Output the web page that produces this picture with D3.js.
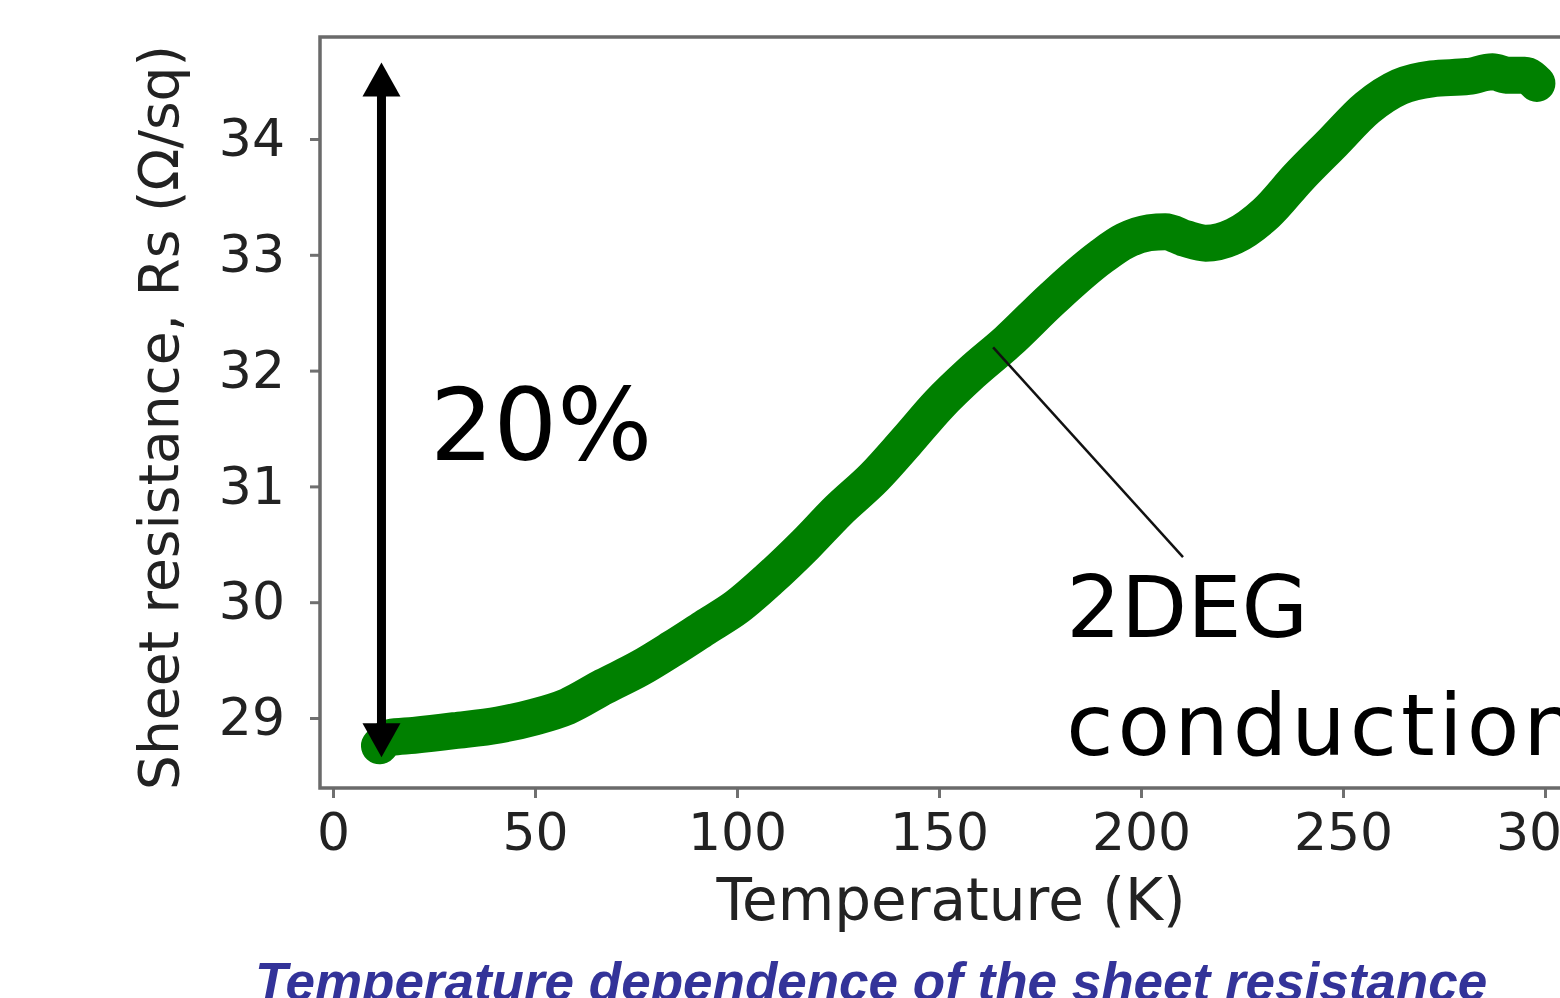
<!DOCTYPE html>
<html>
<head>
<meta charset="utf-8">
<script src="https://cdn.jsdelivr.net/npm/d3@7"></script>
<style>
  html, body { margin: 0; padding: 0; background: #fff; overflow: hidden; }
  svg { display: block; }
  .tick text { font-family: 'DejaVu Sans', sans-serif; fill: #222; }
</style>
</head>
<body>
<div id="chart"></div>
<script>
// temperature (K) and sheet resistance (ohm/sq)
const temps = [11.5, 14, 20, 30, 41, 50, 58, 67, 76, 84, 92, 100, 108, 117, 125, 134, 142, 150, 158, 167,
  178, 190, 196, 202, 206, 211, 216, 223, 231, 239, 247.5, 256, 264, 272, 281, 287, 291, 295, 298];
const resist = [28.76, 28.83, 28.85, 28.89, 28.94, 29.01, 29.1, 29.27, 29.43, 29.6, 29.78, 29.96, 30.2, 30.5,
  30.79, 31.08, 31.39, 31.71, 31.98, 32.25, 32.62, 32.98, 33.12, 33.19, 33.2, 33.14, 33.1, 33.16, 33.36,
  33.67, 33.97, 34.27, 34.45, 34.52, 34.54, 34.58, 34.55, 34.55, 34.48];

const xTicks = [0, 50, 100, 150, 200, 250, 300];
const yTicks = [29, 30, 31, 32, 33, 34];

// annotations: the 20% double arrow and the 2DEG pointer
const arrowT = 12;
const arrowR = [28.66, 34.66];
const pctLabel = { t: 24, r: 31.23, text: '20%' };
const pointer = [[163.4, 32.2], [210.4, 30.39]];
const degLines = [
  { t: 181.5, r: 29.7, text: '2DEG', spacing: 0 },
  { t: 181.5, r: 28.68, text: 'conduction', spacing: 4 }
];

const W = 1560;
const H = 998;
const box = { left: 320, top: 37, right: 1582, bottom: 788 };

const x = d3.scaleLinear().domain([0, 300]).range([333, 1545]);
const y = d3.scaleLinear().domain([29, 34]).range([718, 139]);

const $svg = d3.select('#chart').append('svg')
  .attr('width', W)
  .attr('height', H);

// data band
const pts = temps.map((t, i) => [t, resist[i]]);
$svg.append('path')
  .datum(pts)
  .attr('fill', 'none')
  .attr('stroke', '#008000')
  .attr('stroke-width', 37)
  .attr('stroke-linecap', 'round')
  .attr('stroke-linejoin', 'round')
  .attr('d', d3.line().x(d => x(d[0])).y(d => y(d[1])).curve(d3.curveMonotoneX));

// axes
const $xAxis = $svg.append('g')
  .attr('transform', `translate(0,${box.bottom})`)
  .call(d3.axisBottom(x).tickValues(xTicks).tickSize(10).tickPadding(15));
const $yAxis = $svg.append('g')
  .attr('transform', `translate(${box.left},0)`)
  .call(d3.axisLeft(y).tickValues(yTicks).tickFormat(d3.format('d')).tickSize(10).tickPadding(25));

[$xAxis, $yAxis].forEach($a => {
  $a.select('.domain').remove();
  $a.selectAll('.tick line').attr('stroke', '#707070').attr('stroke-width', 3);
  $a.selectAll('.tick text').style('font-size', '52px');
});

// spines
$svg.append('rect')
  .attr('x', box.left)
  .attr('y', box.top)
  .attr('width', box.right - box.left)
  .attr('height', box.bottom - box.top)
  .attr('fill', 'none')
  .attr('stroke', '#6a6a6a')
  .attr('stroke-width', 3.5);

// double arrow
const ax = x(arrowT);
const yLo = y(arrowR[0]);
const yHi = y(arrowR[1]);
const headW = 19;
const headH = 34;
$svg.append('line')
  .attr('x1', ax).attr('x2', ax)
  .attr('y1', yHi + headH - 2).attr('y2', yLo - headH + 2)
  .attr('stroke', '#000')
  .attr('stroke-width', 9);
$svg.append('path')
  .attr('d', `M${ax},${yHi}L${ax - headW},${yHi + headH}L${ax + headW},${yHi + headH}Z`)
  .attr('fill', '#000');
$svg.append('path')
  .attr('d', `M${ax},${yLo}L${ax - headW},${yLo - headH}L${ax + headW},${yLo - headH}Z`)
  .attr('fill', '#000');

$svg.append('text')
  .attr('x', x(pctLabel.t))
  .attr('y', y(pctLabel.r))
  .style('font-family', "'DejaVu Sans', sans-serif")
  .style('font-size', '100px')
  .attr('fill', '#000')
  .text(pctLabel.text);

// 2DEG pointer
$svg.append('line')
  .attr('x1', x(pointer[0][0])).attr('y1', y(pointer[0][1]))
  .attr('x2', x(pointer[1][0])).attr('y2', y(pointer[1][1]))
  .attr('stroke', '#111')
  .attr('stroke-width', 2.5);

$svg.selectAll('.deg')
  .data(degLines)
  .join('text')
  .attr('class', 'deg')
  .attr('x', d => x(d.t))
  .attr('y', d => y(d.r))
  .style('font-family', "'DejaVu Sans', sans-serif")
  .style('font-size', '86px')
  .style('letter-spacing', d => `${d.spacing}px`)
  .attr('fill', '#000')
  .text(d => d.text);

// axis labels
$svg.append('text')
  .attr('x', 951)
  .attr('y', 920)
  .attr('text-anchor', 'middle')
  .style('font-family', "'DejaVu Sans', sans-serif")
  .style('font-size', '58px')
  .attr('fill', '#222')
  .text('Temperature (K)');

$svg.append('text')
  .attr('transform', `translate(178,${(box.top + box.bottom) / 2 + 5}) rotate(-90)`)
  .attr('text-anchor', 'middle')
  .style('font-family', "'DejaVu Sans', sans-serif")
  .style('font-size', '55px')
  .attr('fill', '#222')
  .text('Sheet resistance, Rs (Ω/sq)');

// caption
$svg.append('text')
  .attr('x', 255)
  .attr('y', 1000)
  .style('font-family', "'Liberation Sans', Arial, sans-serif")
  .style('font-size', '53px')
  .style('font-weight', 'bold')
  .style('font-style', 'italic')
  .attr('fill', '#333399')
  .text('Temperature dependence of the sheet resistance');
</script>
</body>
</html>
